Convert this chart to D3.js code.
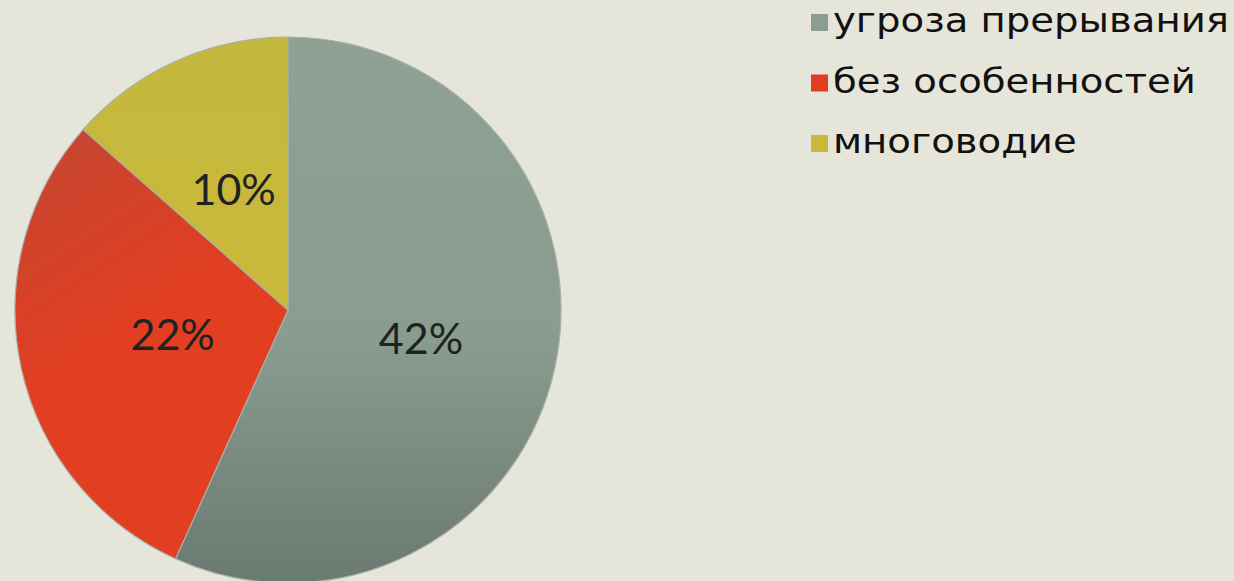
<!DOCTYPE html>
<html>
<head>
<meta charset="utf-8">
<script src="https://cdn.jsdelivr.net/npm/d3@7"></script>
<style>
  html, body { margin: 0; padding: 0; background: #e6e5da; }
  svg { display: block; }
</style>
</head>
<body>
<div id="chart"></div>
<script>
const width = 1234;
const height = 581;

// data
const categories = ["угроза прерывания", "без особенностей", "многоводие"];
const values = [42, 22, 10];
const labels = ["42%", "22%", "10%"];
const colors = ["#8b9d91", "#e03d22", "#c8b93b"];

const cx = 288, cy = 310, radius = 273;
// distance of each label from the centre (excel "best fit" placement)
const labelRadius = [136, 118, 132];

const svg = d3.select("#chart").append("svg")
    .attr("width", width)
    .attr("height", height);

svg.append("rect")
    .attr("width", width)
    .attr("height", height)
    .attr("fill", "#e6e5da");

// gradients, a bit like the office-style shading
// (coordinates are relative to the pie centre, the slices live in a translated group)
const defs = svg.append("defs");
const gradDefs = [
    { x1: 0, y1: -radius, x2: 0, y2: radius,
      stops: [["0%", "#8fa195"], ["55%", "#8a9b90"], ["100%", "#6b7a70"]] },
    { x1: -radius * 0.75, y1: -radius * 0.65, x2: -radius * 0.35, y2: -radius * 0.05,
      stops: [["0%", "#c8452f"], ["100%", "#e23e21"]] },
    { x1: 0, y1: -radius, x2: 0, y2: 0,
      stops: [["0%", "#c3b83e"], ["100%", "#cbb93a"]] }
];
gradDefs.forEach(function (gd, i) {
    const g = defs.append("linearGradient")
        .attr("id", "grad-" + i)
        .attr("gradientUnits", "userSpaceOnUse")
        .attr("x1", gd.x1).attr("y1", gd.y1)
        .attr("x2", gd.x2).attr("y2", gd.y2);
    gd.stops.forEach(function (s) {
        g.append("stop").attr("offset", s[0]).attr("stop-color", s[1]);
    });
});

const pie = d3.pie().sort(null).value(function (d) { return d; });
const arcs = pie(values);

const arc = d3.arc().innerRadius(0).outerRadius(radius);

const g = svg.append("g")
    .attr("transform", "translate(" + cx + "," + cy + ")");

g.selectAll("path.slice")
    .data(arcs)
    .enter().append("path")
    .attr("class", "slice")
    .attr("d", arc)
    .attr("fill", function (d, i) { return "url(#grad-" + i + ")"; })
    .attr("stroke", "#a9b0a6")
    .attr("stroke-width", 1.2)
    .attr("stroke-linejoin", "round");

g.selectAll("text.lbl")
    .data(arcs)
    .enter().append("text")
    .attr("class", "lbl")
    .attr("transform", function (d, i) {
        const r = labelRadius[i];
        return "translate(" + d3.arc().innerRadius(r).outerRadius(r).centroid(d) + ")";
    })
    .attr("text-anchor", "middle")
    .attr("dy", "0.36em")
    .style("font-family", "Lato, 'Open Sans', sans-serif")
    .style("font-size", "43px")
    .style("fill", "#1e2220")
    .text(function (d, i) { return labels[i]; });

// legend
const legend = svg.append("g")
    .attr("transform", "translate(811, 0)");

// baselines of legend rows
const legendY = d3.scalePoint()
    .domain(categories)
    .range([32, 153]);

const item = legend.selectAll("g.item")
    .data(categories)
    .enter().append("g")
    .attr("class", "item")
    .attr("transform", function (d) { return "translate(0," + legendY(d) + ")"; });

item.append("rect")
    .attr("x", 0)
    .attr("y", -18)
    .attr("width", 17)
    .attr("height", 17)
    .attr("fill", function (d, i) { return colors[i]; });

// text in the slide is stretched a little horizontally
item.append("text")
    .attr("transform", "translate(22,0) scale(1.135,1)")
    .style("font-family", "'DejaVu Sans', sans-serif")
    .style("font-size", "34px")
    .style("fill", "#111")
    .text(function (d) { return d; });
</script>
</body>
</html>
